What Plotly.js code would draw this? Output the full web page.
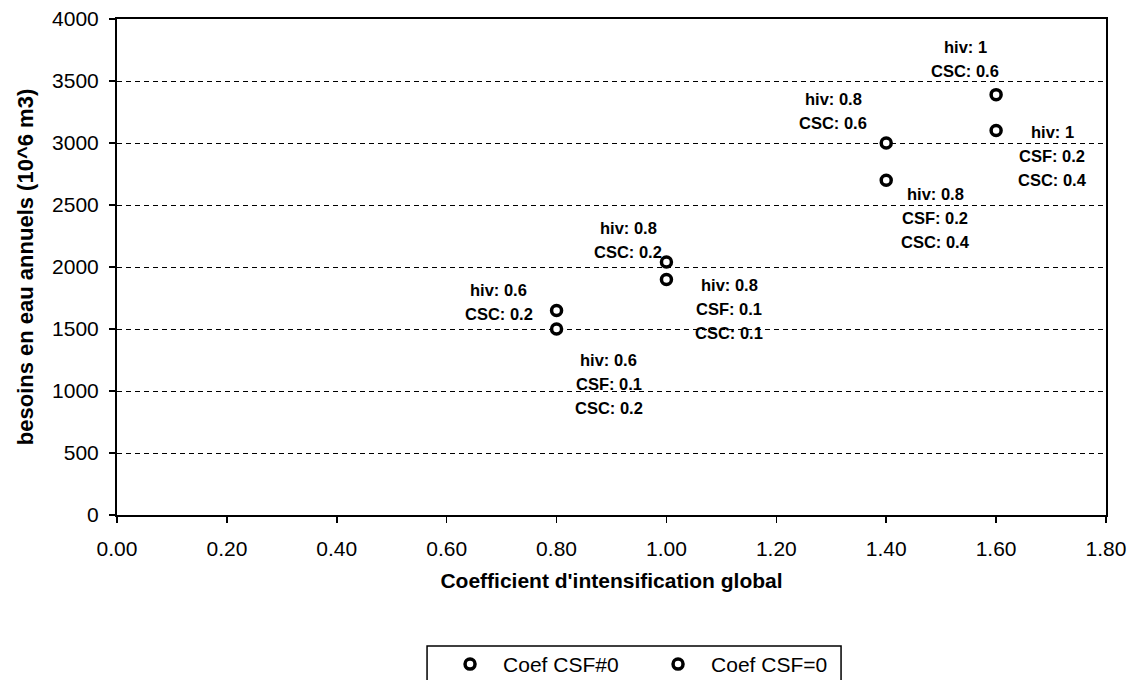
<!DOCTYPE html>
<html><head><meta charset="utf-8">
<script src="https://cdn.plot.ly/plotly-3.0.1.min.js"></script>
<style>html,body{margin:0;padding:0;background:#fff;}#chart{width:1135px;height:680px;}</style>
</head><body><div id="chart"></div>
<script>
// Series: Coef CSF#0
var xNonZero = [0.80, 1.00, 1.40, 1.60];
var yNonZero = [1500, 1900, 2700, 3100];
var labelsNonZero = [
  ["hiv: 0.6", "CSF: 0.1", "CSC: 0.2"],
  ["hiv: 0.8", "CSF: 0.1", "CSC: 0.1"],
  ["hiv: 0.8", "CSF: 0.2", "CSC: 0.4"],
  ["hiv: 1", "CSF: 0.2", "CSC: 0.4"]
];
// Series: Coef CSF=0
var xZero = [0.80, 1.00, 1.40, 1.60];
var yZero = [1650, 2040, 3000, 3390];
var labelsZero = [
  ["hiv: 0.6", "CSC: 0.2"],
  ["hiv: 0.8", "CSC: 0.2"],
  ["hiv: 0.8", "CSC: 0.6"],
  ["hiv: 1", "CSC: 0.6"]
];
var xTickVals = [0, 0.2, 0.4, 0.6, 0.8, 1.0, 1.2, 1.4, 1.6, 1.8];
var xTickText = ["0.00","0.20","0.40","0.60","0.80","1.00","1.20","1.40","1.60","1.80"];
var yTickVals = [0, 500, 1000, 1500, 2000, 2500, 3000, 3500, 4000];

// label offsets (pixel shift of label centre relative to its point)
var offNonZero = [[52, -55], [63, -30], [49, -38], [56, -25]];
var offZero = [[-58, 8], [-38, 22], [-53, 32], [-31, 36]];

var marker = {symbol: 'circle', size: 10, color: '#ffffff', line: {color: '#000000', width: 3.5}};
var traces = [
  {type: 'scatter', mode: 'markers', name: 'Coef CSF#0', x: xNonZero, y: yNonZero, marker: marker},
  {type: 'scatter', mode: 'markers', name: 'Coef CSF=0', x: xZero, y: yZero, marker: marker}
];

var annotations = [];
function addLabels(xs, ys, labels, offs) {
  for (var i = 0; i < xs.length; i++) {
    var lines = labels[i];
    var n = lines.length;
    for (var j = 0; j < n; j++) {
      annotations.push({
        x: xs[i], y: ys[i], xref: 'x', yref: 'y', showarrow: false,
        text: lines[j],
        font: {family: 'Liberation Sans, Arial, sans-serif', size: 16.5, color: '#000', weight: 'bold'},
        xshift: offs[i][0],
        yshift: offs[i][1] - (j - (n - 1) / 2) * 24
      });
    }
  }
}
addLabels(xNonZero, yNonZero, labelsNonZero, offNonZero);
addLabels(xZero, yZero, labelsZero, offZero);

var layout = {
  width: 1135, height: 680,
  margin: {l: 117, r: 29, t: 19, b: 165, autoexpand: false},
  paper_bgcolor: '#ffffff', plot_bgcolor: '#ffffff',
  font: {family: 'Liberation Sans, Arial, sans-serif', color: '#000'},
  showlegend: true,
  legend: {
    orientation: 'h', x: 0.3236, y: -0.260, xanchor: 'left', yanchor: 'top',
    borderwidth: 0, bgcolor: 'rgba(0,0,0,0)',
    font: {size: 21, color: '#000'}, itemwidth: 56, entrywidth: 137, tracegroupgap: 0
  },
  shapes: [{
    type: 'rect', xref: 'paper', yref: 'paper',
    x0: 0.3135, x1: 0.7321, y0: -0.40, y1: -0.2641,
    line: {color: '#000', width: 1.5}, fillcolor: 'rgba(0,0,0,0)', layer: 'below'
  }],
  xaxis: {
    range: [0, 1.8], tickvals: xTickVals, ticktext: xTickText,
    showline: true, linecolor: '#000', linewidth: 2, mirror: true,
    ticks: 'outside', ticklen: 6, tickcolor: '#000', tickwidth: 1.5,
    showgrid: false, zeroline: false,
    tickfont: {size: 21}, ticklabelstandoff: 8,
    title: {text: "Coefficient d'intensification global", font: {size: 21, weight: 'bold'}, standoff: 14}
  },
  yaxis: {
    range: [0, 4000], tickvals: yTickVals,
    showline: true, linecolor: '#000', linewidth: 2, mirror: true,
    ticks: 'outside', ticklen: 6, tickcolor: '#000', tickwidth: 1.5,
    showgrid: true, gridcolor: '#000', gridwidth: 1, griddash: '5px,4px',
    zeroline: false,
    tickfont: {size: 21}, ticklabelstandoff: 6,
    title: {text: 'besoins en eau annuels (10^6 m3)', font: {size: 22, weight: 'bold'}, standoff: 12}
  },
  annotations: annotations
};
Plotly.newPlot('chart', traces, layout, {displayModeBar: false, staticPlot: true});
</script>
</body></html>
